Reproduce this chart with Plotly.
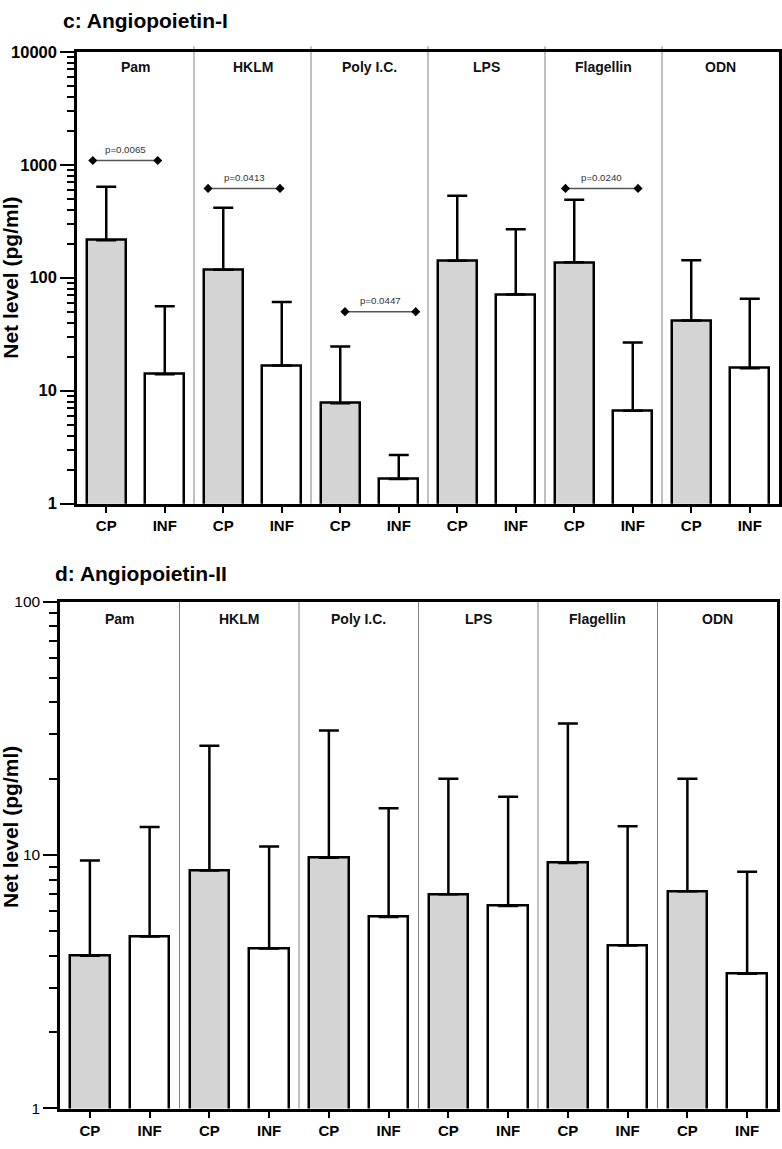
import math
import plotly.graph_objects as go

# ---------------- data ----------------
stimuli = ["Pam", "HKLM", "Poly I.C.", "LPS", "Flagellin", "ODN"]
groups = ["CP", "INF"]

# Angiopoietin-I (pg/ml): bar means and upper error limits
ang1_cp = [215, 117.5, 7.73, 141.6, 136.8, 41.8]
ang1_cp_top = [639, 417, 24.6, 533, 489, 142.5]
ang1_inf = [14.0, 16.7, 1.65, 71.1, 6.64, 15.8]
ang1_inf_top = [55.8, 60.9, 2.69, 269, 26.7, 65]

# Angiopoietin-II (pg/ml)
ang2_cp = [4.01, 8.68, 9.75, 7.0, 9.3, 7.2]
ang2_cp_top = [9.52, 27, 31, 20, 33, 20]
ang2_inf = [4.77, 4.28, 5.70, 6.3, 4.4, 3.4]
ang2_inf_top = [12.9, 10.8, 15.3, 17, 13, 8.6]

# significance brackets (Angiopoietin-I)
p_labels = ["p=0.0065", "p=0.0413", "p=0.0447", "p=0.0240"]
p_level = [1092, 618, 50.1, 618]
p_x0 = [-0.23, 1.74, 4.08, 7.85]
p_x1 = [0.88, 2.97, 5.29, 9.09]

# ---------------- figure ----------------
W, H = 782, 1149
FONT = "Liberation Sans, Arial, sans-serif"
CP_COLOR = "#d4d4d4"

fig = go.Figure()


def interleave(a, b):
    out = []
    for u, v in zip(a, b):
        out += [u, v]
    return out


def add_panel(cp, cp_top, inf, inf_top, xa, ya):
    vals = interleave(cp, inf)
    tops = interleave(cp_top, inf_top)
    plus = [t - v for t, v in zip(tops, vals)]
    xs = list(range(len(vals)))
    colors = [CP_COLOR if i % 2 == 0 else "white" for i in xs]
    fig.add_trace(go.Bar(
        x=xs, y=vals, width=0.66,
        marker=dict(color=colors, line=dict(color="black", width=2.5)),
        error_y=dict(type="data", symmetric=False, array=plus,
                     arrayminus=[0] * len(vals), color="black",
                     thickness=2.5, width=10),
        xaxis=xa, yaxis=ya, showlegend=False, hoverinfo="skip",
    ))


add_panel(ang1_cp, ang1_cp_top, ang1_inf, ang1_inf_top, "x", "y")
add_panel(ang2_cp, ang2_cp_top, ang2_inf, ang2_inf_top, "x2", "y2")

n = 2 * len(stimuli)
tickvals_x = list(range(n))
ticktext_x = [groups[i % 2] for i in range(n)]

top_dom_y = [1 - 502.5 / H, 1 - 43.5 / H]
bot_dom_y = [1 - 1117 / H, 1 - 602 / H]
top_dom_x = [77 / W, 779 / W]
bot_dom_x = [60 / W, 777 / W]

xcommon = dict(range=[-0.5, n - 0.5], tickmode="array", tickvals=tickvals_x,
               ticktext=ticktext_x, ticks="outside", ticklen=7, tickwidth=2,
               tickcolor="black", showline=True, linewidth=2.5, linecolor="black",
               mirror=True, showgrid=False, zeroline=False,
               tickfont=dict(family=FONT, size=15, color="black", weight="bold"))


def minor_vals(maxdec):
    out = []
    for d in range(maxdec):
        for k in range(2, 10):
            out.append(k * 10 ** d)
    return out


ycommon = dict(type="log", tickmode="array", ticks="outside", ticklen=14,
               tickwidth=2, tickcolor="black", showline=True, linewidth=2.5,
               linecolor="black", mirror=True, showgrid=False, zeroline=False)

fig.update_layout(
    width=W, height=H, margin=dict(l=0, r=0, t=0, b=0),
    paper_bgcolor="white", plot_bgcolor="white", bargap=0,
    xaxis=dict(domain=top_dom_x, anchor="y", **xcommon),
    yaxis=dict(domain=top_dom_y, anchor="x", range=[0, 4],
               tickvals=[1, 10, 100, 1000, 10000],
               ticktext=["1", "10", "100", "1000", "10000"],
               tickfont=dict(family=FONT, size=16.5, color="black", weight="bold"),
               minor=dict(tickmode="array", tickvals=minor_vals(4), ticks="outside",
                          ticklen=7, tickwidth=2, tickcolor="black"),
               **ycommon),
    xaxis2=dict(domain=bot_dom_x, anchor="y2", **xcommon),
    yaxis2=dict(domain=bot_dom_y, anchor="x2", range=[0, 2],
                tickvals=[1, 10, 100], ticktext=["1", "10", "100"],
                tickfont=dict(family=FONT, size=15.5, color="black"),
                minor=dict(tickmode="array", tickvals=minor_vals(2), ticks="outside",
                           ticklen=8, tickwidth=2, tickcolor="black"),
                **ycommon),
)

shapes = []
annotations = []
for xa, ya, ytop in (("x", "y", 1.012), ("x2", "y2", 1.0)):
    for g in range(1, len(stimuli)):
        shapes.append(dict(type="line", xref=xa, yref=ya + " domain",
                           x0=2 * g - 0.5, x1=2 * g - 0.5, y0=0, y1=ytop,
                           line=dict(color="#808080", width=1), layer="below"))
    for g, name in enumerate(stimuli):
        annotations.append(dict(x=2 * g + 0.5, y=0.9655, xref=xa, yref=ya + " domain",
                                text=name, showarrow=False, yanchor="middle",
                                font=dict(family=FONT, size=14, color="#111111",
                                          weight="bold")))

# significance brackets
for lab, lev, a, b in zip(p_labels, p_level, p_x0, p_x1):
    fig.add_trace(go.Scatter(
        x=[a, b], y=[lev, lev], mode="lines+markers",
        line=dict(color="#555555", width=1.5),
        marker=dict(symbol="diamond", size=7, color="black"),
        xaxis="x", yaxis="y", showlegend=False, hoverinfo="skip"))
    annotations.append(dict(x=(a + b) / 2, y=math.log10(lev), xref="x", yref="y",
                            text=lab, showarrow=False, yshift=11, yanchor="middle",
                            font=dict(family=FONT, size=9.7, color="#333333")))

# titles
annotations.append(dict(x=61 / W, y=1 - 12 / H, xref="paper", yref="paper",
                        xanchor="left", yanchor="middle", text="c: Angiopoietin-I",
                        showarrow=False,
                        font=dict(family=FONT, size=21, color="black", weight="bold")))
annotations.append(dict(x=53 / W, y=1 - 573 / H, xref="paper", yref="paper",
                        xanchor="left", yanchor="middle", text="d: Angiopoietin-II",
                        showarrow=False,
                        font=dict(family=FONT, size=21, color="black", weight="bold")))
for yc in (273, 831):
    annotations.append(dict(x=11 / W, y=1 - yc / H, xref="paper", yref="paper",
                            xanchor="center", yanchor="middle", textangle=-90,
                            text="Net level (pg/ml)", showarrow=False,
                            font=dict(family=FONT, size=21, color="black",
                                      weight="bold")))

fig.update_layout(shapes=shapes, annotations=annotations)
fig.write_html("out.html", config={"displayModeBar": False},
               post_script="document.body.style.margin='0';")
